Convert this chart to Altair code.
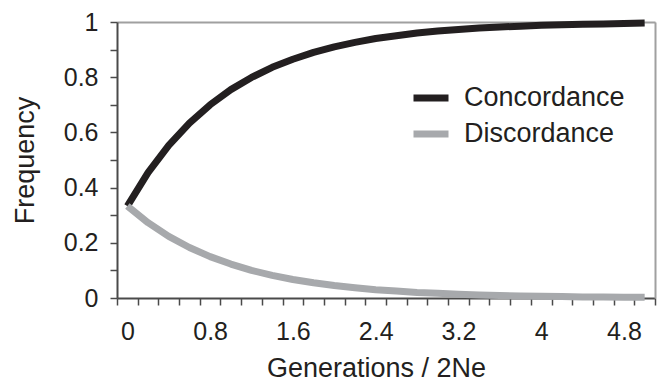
import altair as alt
import pandas as pd

generations = [0.0, 0.2, 0.4, 0.6, 0.8, 1.0, 1.2, 1.4, 1.6, 1.8, 2.0, 2.2, 2.4,
               2.6, 2.8, 3.0, 3.2, 3.4, 3.6, 3.8, 4.0, 4.2, 4.4, 4.6, 4.8, 5.0]
concordance = [0.333, 0.454, 0.553, 0.634, 0.700, 0.755, 0.799, 0.836, 0.865,
               0.890, 0.910, 0.926, 0.940, 0.950, 0.960, 0.967, 0.973, 0.978,
               0.982, 0.985, 0.988, 0.990, 0.992, 0.993, 0.995, 0.996]
discordance = [0.333, 0.273, 0.223, 0.183, 0.150, 0.123, 0.100, 0.082, 0.067,
               0.055, 0.045, 0.037, 0.030, 0.025, 0.020, 0.017, 0.014, 0.011,
               0.009, 0.0075, 0.006, 0.005, 0.004, 0.0035, 0.003, 0.0025]
series = ["Concordance", "Discordance"]
colors = ["#231f20", "#a7a9ac"]
x_labels = [0, 0.8, 1.6, 2.4, 3.2, 4, 4.8]
x_ticks = [round(-0.1 + 0.2 * i, 2) for i in range(27)]
y_ticks = [round(0.1 * i, 1) for i in range(11)]

rows = []
for g, c, d in zip(generations, concordance, discordance):
    rows.append({"g": g, "freq": c, "series": series[0]})
    rows.append({"g": g, "freq": d, "series": series[1]})
df = pd.DataFrame(rows)

FONT = "Liberation Sans"
AX = "#4a4a4a"
BORDER = "#a0a0a0"

xscale = alt.Scale(domain=[-0.1, 5.1], nice=False, zero=False)
yscale = alt.Scale(domain=[0, 1], nice=False)

base = alt.Chart(df)

lines = base.mark_line(strokeWidth=7, strokeCap="butt", strokeJoin="round").encode(
    x=alt.X("g:Q", scale=xscale,
            axis=alt.Axis(orient="bottom", values=x_ticks, labels=False, ticks=True,
                          tickSize=7, tickWidth=1.5, tickColor=AX, domain=True,
                          domainColor=AX, domainWidth=2, grid=False, title=None)),
    y=alt.Y("freq:Q", scale=yscale,
            axis=alt.Axis(orient="left", values=y_ticks, tickSize=7, tickWidth=1.5,
                          tickColor=AX, domainColor=AX, domainWidth=2, grid=False,
                          labelExpr="round(datum.value*10)%2==0 ? format(datum.value,'~g') : ''",
                          labelFont=FONT, labelFontSize=25, labelColor="#231f20",
                          labelPadding=12, title="Frequency", titleFont=FONT,
                          titleFontSize=27, titleFontWeight="normal", titleColor="#231f20",
                          titleX=-84, titleY=138, titleAlign="center",
                          titleBaseline="alphabetic", titleAngle=-90)),
    color=alt.Color("series:N", scale=alt.Scale(domain=series, range=colors),
                    legend=alt.Legend(orient="none", legendX=293, legendY=55, title=None,
                                      symbolType="stroke", symbolStrokeWidth=7,
                                      symbolSize=1225, labelFont=FONT, labelFontSize=27,
                                      labelColor="#231f20", labelOffset=12,
                                      labelLimit=0, rowPadding=1)),
)

labels_layer = base.mark_point(opacity=0).encode(
    x=alt.X("g:Q", scale=xscale,
            axis=alt.Axis(orient="bottom", values=x_labels, ticks=False, domain=False,
                          grid=False, labelFont=FONT, labelFontSize=25,
                          labelColor="#231f20", labelPadding=21,
                          labelExpr="format(datum.value,'~g')",
                          title="Generations / 2Ne", titleFont=FONT, titleFontSize=27,
                          titleFontWeight="normal", titleColor="#231f20",
                          titleX=259, titleY=78, titleAlign="center",
                          titleBaseline="alphabetic")),
    y=alt.Y("freq:Q", scale=yscale,
            axis=alt.Axis(orient="right", ticks=False, labels=False, grid=False,
                          domainColor=BORDER, domainWidth=2, title=None)),
)

top_layer = base.mark_point(opacity=0).encode(
    x=alt.X("g:Q", scale=xscale,
            axis=alt.Axis(orient="top", ticks=False, labels=False, grid=False,
                          domainColor=BORDER, domainWidth=2, title=None)),
    y=alt.Y("freq:Q", scale=yscale, axis=None),
)

chart = alt.layer(top_layer, labels_layer, lines).resolve_axis(
    x="independent", y="independent"
).properties(
    width=538, height=276,
    autosize=alt.AutoSizeParams(type="none"),
    padding={"left": 117, "top": 22, "right": 5, "bottom": 85},
).configure_view(stroke=None).configure(background="white")

chart.save("out.html", embed_options={"renderer": "svg", "actions": False})
